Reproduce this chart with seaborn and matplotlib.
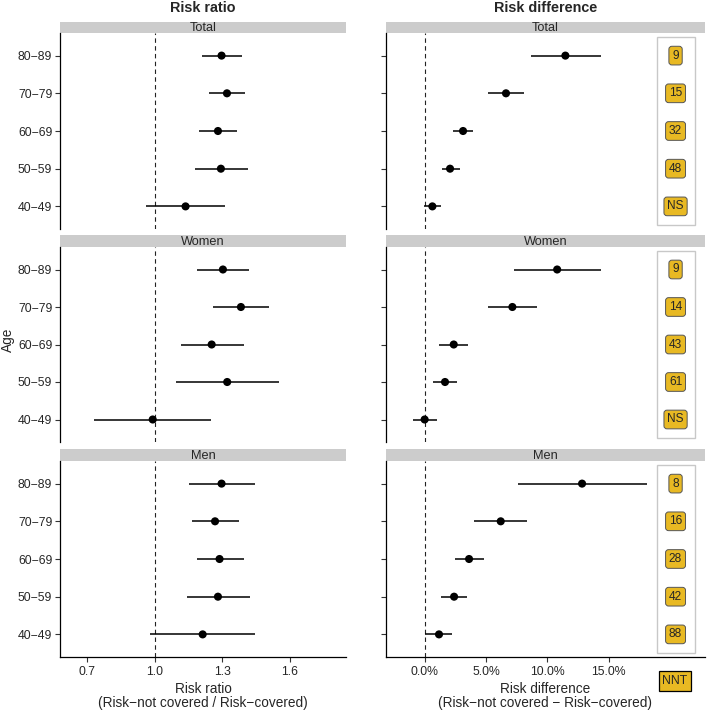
import numpy as np
import pandas as pd
import matplotlib
matplotlib.use('Agg')
import matplotlib.pyplot as plt
import seaborn as sns
from matplotlib.patches import Rectangle

sns.set_style('white')
plt.rcParams['font.family'] = ['Liberation Sans', 'DejaVu Sans']

#%% data

ages = ['80−89', '70−79', '60−69', '50−59', '40−49']
groups = ['Total', 'Women', 'Men']

# risk ratio: estimate, lower, upper
rr_total = [1.296, 1.320, 1.280, 1.293, 1.136]
rr_total_lo = [1.210, 1.240, 1.197, 1.178, 0.960]
rr_total_hi = [1.385, 1.400, 1.363, 1.415, 1.313]

rr_women = [1.302, 1.382, 1.252, 1.321, 0.990]
rr_women_lo = [1.187, 1.258, 1.116, 1.093, 0.730]
rr_women_hi = [1.419, 1.508, 1.394, 1.550, 1.249]

rr_men = [1.296, 1.267, 1.287, 1.280, 1.212]
rr_men_lo = [1.151, 1.163, 1.187, 1.142, 0.979]
rr_men_hi = [1.443, 1.373, 1.394, 1.421, 1.444]

# risk difference (%): estimate, lower, upper
rd_total = [11.47, 6.63, 3.13, 2.07, 0.63]
rd_total_lo = [8.64, 5.19, 2.28, 1.39, -0.08]
rd_total_hi = [14.35, 8.13, 3.94, 2.85, 1.36]

rd_women = [10.80, 7.15, 2.37, 1.66, 0.00]
rd_women_lo = [7.26, 5.13, 1.20, 0.68, -0.98]
rd_women_hi = [14.38, 9.18, 3.53, 2.67, 0.98]

rd_men = [12.83, 6.20, 3.62, 2.40, 1.17]
rd_men_lo = [7.58, 4.03, 2.50, 1.36, 0.06]
rd_men_hi = [18.13, 8.35, 4.84, 3.46, 2.26]

# number needed to treat
nnt_total = ['9', '15', '32', '48', 'NS']
nnt_women = ['9', '14', '43', '61', 'NS']
nnt_men = ['8', '16', '28', '42', '88']


def make_df(est, lo, hi, nnt=None):
    d = pd.DataFrame({'age': ages, 'est': est, 'lo': lo, 'hi': hi})
    if nnt is not None:
        d['nnt'] = nnt
    return d

rr = {'Total': make_df(rr_total, rr_total_lo, rr_total_hi),
      'Women': make_df(rr_women, rr_women_lo, rr_women_hi),
      'Men': make_df(rr_men, rr_men_lo, rr_men_hi)}
rd = {'Total': make_df(rd_total, rd_total_lo, rd_total_hi, nnt_total),
      'Women': make_df(rd_women, rd_women_lo, rd_women_hi, nnt_women),
      'Men': make_df(rd_men, rd_men_lo, rd_men_hi, nnt_men)}

#%% layout in pixels

W, H = 709, 712
fig = plt.figure(figsize=(W / 100, H / 100), dpi=100)

def px_axes(x0, y0, x1, y1):
    return fig.add_axes([x0 / W, 1 - y1 / H, (x1 - x0) / W, (y1 - y0) / H])

cols = [(60, 346), (386, 705)]
rows = [(22, 33, 229), (235, 247, 442), (449, 461, 657)]
gold = '#E8B923'
tick_fs = 8.8

for r, g in enumerate(groups):
    s0, p0, p1 = rows[r]
    for c in range(2):
        x0, x1 = cols[c]
        # strip
        sax = px_axes(x0, s0, x1, p0)
        sax.set_facecolor('#cccccc')
        sax.set_xticks([]); sax.set_yticks([])
        for sp in sax.spines.values():
            sp.set_visible(False)
        sax.text(0.5, 0.42, g, ha='center', va='center', fontsize=9.2,
                 transform=sax.transAxes)

        ax = px_axes(x0, p0, x1, p1)
        d = rr[g] if c == 0 else rd[g]
        ax.hlines(d['age'], d['lo'], d['hi'], color='black', lw=1.1, zorder=2)
        sns.scatterplot(data=d, x='est', y='age', ax=ax, color='black', s=34,
                        edgecolor='none', zorder=3, legend=False)
        ax.axvline(1.0 if c == 0 else 0.0, color='#222222', ls=(0, (4, 3)),
                   lw=0.8, zorder=1)
        ax.set_ylim(4.6, -0.6)
        if c == 0:
            ax.set_xlim(0.578, 1.849)
            ax.set_xticks([0.7, 1.0, 1.3, 1.6])
            ax.set_xticklabels(['0.7', '1.0', '1.3', '1.6'])
        else:
            ax.set_xlim(-3.15, 22.85)
            ax.set_xticks([0, 5, 10, 15])
            ax.set_xticklabels(['0.0%', '5.0%', '10.0%', '15.0%'])
            # NNT labels in a light box
            ax.add_patch(Rectangle((18.9, -0.5), 3.1, 5.0, fill=False,
                                   ec='#c8c8c8', lw=1.0, zorder=1))
            for i, lab in enumerate(d['nnt']):
                ax.text(20.45, i, lab, ha='center', va='center', fontsize=8.6,
                        bbox=dict(boxstyle='round,pad=0.28,rounding_size=0.25',
                                  fc=gold, ec='#555555', lw=0.7))
        ax.set_xlabel(''); ax.set_ylabel('')
        for sp in ['top', 'right']:
            ax.spines[sp].set_visible(False)
        ax.spines['left'].set_color('black')
        ax.spines['left'].set_linewidth(0.9)
        ax.tick_params(axis='y', length=3.5, width=0.8, color='#333333',
                       labelsize=tick_fs, pad=2, left=True,
                       labelleft=(c == 0))
        if r == 2:
            ax.spines['bottom'].set_color('black')
            ax.spines['bottom'].set_linewidth(0.9)
            ax.tick_params(axis='x', length=3.5, width=0.8, color='#333333',
                           labelsize=tick_fs, pad=3, bottom=True)
        else:
            ax.spines['bottom'].set_visible(False)
            ax.tick_params(axis='x', bottom=False, labelbottom=False)

        if r == 2 and c == 0:
            ax.set_xlabel('Risk ratio\n(Risk−not covered / Risk−covered)',
                          fontsize=9.8, labelpad=3, linespacing=1.0)
        if r == 2 and c == 1:
            ax.set_xlabel('Risk difference\n(Risk−not covered − Risk−covered)',
                          fontsize=9.8, labelpad=3, linespacing=1.0)

# column titles, shared y label and NNT key
fig.text(203 / W, 1 - 8 / H, 'Risk ratio', ha='center', va='center',
         fontsize=10.4, fontweight='bold')
fig.text(546 / W, 1 - 8 / H, 'Risk difference', ha='center', va='center',
         fontsize=10.4, fontweight='bold')
fig.text(8 / W, 1 - 340 / H, 'Age', ha='center', va='center', rotation=90,
         fontsize=9.8)
fig.text(675 / W, 1 - 681 / H, 'NNT', ha='center', va='center', fontsize=8.8,
         bbox=dict(boxstyle='square,pad=0.3', fc=gold, ec='black', lw=0.9))

fig.savefig('out.png', dpi=100)
